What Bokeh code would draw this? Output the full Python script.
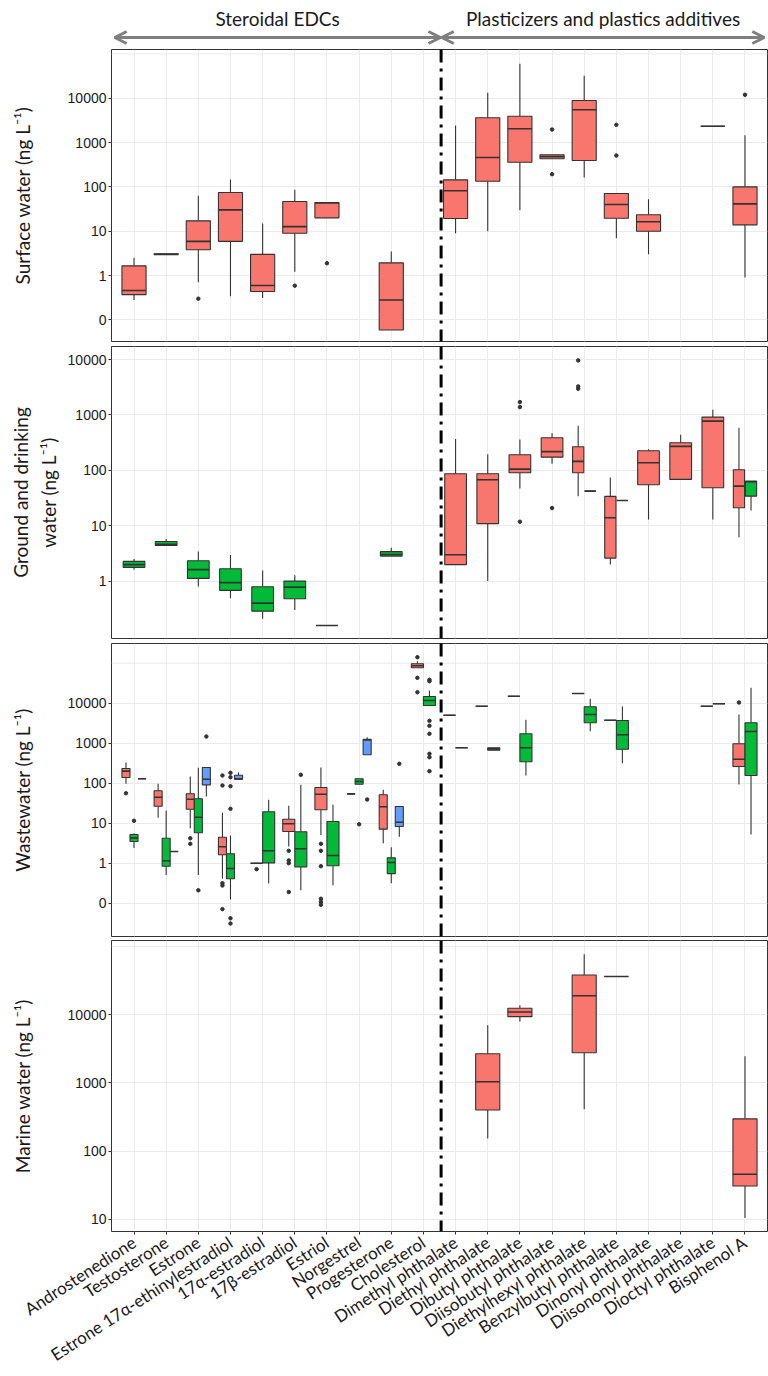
import math
from bokeh.plotting import figure
from bokeh.models import (FactorRange, Range1d, FixedTicker, CustomJSTickFormatter,
                          Span, ColumnDataSource, Arrow, OpenHead)
from bokeh.transform import dodge
from bokeh.layouts import column
from bokeh.embed import file_html
from bokeh.resources import INLINE
from bokeh.core.properties import value

# ---------------- data ----------------
categories = ["Androstenedione", "Testosterone", "Estrone", "Estrone 17α-ethinylestradiol",
              "17α-estradiol", "17β-estradiol", "Estriol", "Norgestrel", "Progesterone",
              "Cholesterol", "Dimethyl phthalate", "Diethyl phthalate", "Dibutyl phthalate",
              "Diisobutyl phthalate", "Diethylhexyl phthalate", "Benzylbutyl phthalate",
              "Dinonyl phthalate", "Diisononyl phthalate", "Dioctyl phthalate", "Bisphenol A"]
group_titles = ["Steroidal EDCs", "Plasticizers and plastics additives"]
n_steroid = 10
C = categories

# Surface water
sw_cat = [C[0], C[1], C[2], C[3], C[4], C[5], C[6], C[8], C[10], C[11], C[12], C[13], C[14], C[15], C[16], C[18], C[19]]
sw_grp = [0] * len(sw_cat)
sw_lo  = [0.28, 2.95, 0.70, 0.34, 0.31, 1.21, 20, 0.059, 9.0, 10, 29.7, 430, 162, 6.9, 3.0, 2335, 0.9]
sw_q1  = [0.37, 2.95, 3.8, 5.9, 0.435, 9.0, 20, 0.059, 19.3, 134, 360, 430, 393, 19.6, 10, 2335, 13.9]
sw_med = [0.46, 3.02, 5.9, 30.3, 0.594, 12.7, 43.5, 0.28, 81.5, 459, 2042, 477, 5470, 40, 16.3, 2335, 41.4]
sw_q3  = [1.65, 3.1, 17.1, 74.5, 3.0, 46.7, 44.4, 1.93, 144, 3614, 3926, 528, 8870, 70.8, 23.4, 2335, 100]
sw_hi  = [2.5, 3.1, 62.8, 146, 14.9, 85.7, 44.4, 3.47, 2420, 13240, 59700, 528, 32000, 72, 52.6, 2335, 1462]
sw_out_cat = [C[2], C[5], C[6], C[13], C[13], C[15], C[15], C[19]]
sw_out_grp = [0] * len(sw_out_cat)
sw_out_val = [0.30, 0.59, 1.89, 1968, 193, 2512, 509, 11940]

# Ground and drinking water
gd_cat = [C[0], C[1], C[2], C[3], C[4], C[5], C[6], C[8], C[10], C[11], C[12], C[13], C[14], C[14],
          C[15], C[15], C[16], C[17], C[18], C[19], C[19]]
gd_grp = [1, 1, 1, 1, 1, 1, 1, 1, 0, 0, 0, 0, 0, 1, 0, 1, 0, 0, 0, 0, 1]
gd_lo  = [1.61, 4.41, 0.80, 0.49, 0.21, 0.30, 0.158, 2.83, 1.98, 1.0, 47.1, 131, 34.2, 42.1, 2.0, 28.6, 13, 68.5, 13, 6.2, 18.9]
gd_q1  = [1.77, 4.41, 1.12, 0.68, 0.287, 0.48, 0.158, 2.83, 1.98, 10.9, 90.5, 173, 90.5, 42.1, 2.6, 28.6, 55, 68.5, 48.5, 21.1, 34.2]
gd_med = [1.98, 4.6, 1.61, 0.94, 0.40, 0.78, 0.158, 3.03, 3.0, 67.7, 105, 217, 145, 42.1, 13.9, 28.6, 137, 270, 773, 51.9, 62]
gd_q3  = [2.27, 5.2, 2.33, 1.67, 0.79, 1.0, 0.158, 3.4, 86.9, 86.9, 191, 388, 267, 42.1, 33.8, 28.6, 226, 315, 913, 102.5, 63.8]
gd_hi  = [2.5, 5.73, 3.44, 2.95, 1.56, 1.27, 0.158, 4.0, 366, 194, 361, 469, 638, 42.1, 74.5, 28.6, 241, 439, 1242, 587, 63.8]
gd_out_cat = [C[12], C[12], C[12], C[13], C[14], C[14], C[14]]
gd_out_grp = [0, 0, 0, 0, 0, 0, 0]
gd_out_val = [1703, 1383, 11.8, 20.8, 9640, 3268, 2970]

# Wastewater
ww_cat = [C[0], C[0], C[0], C[1], C[1], C[1], C[2], C[2], C[2], C[3], C[3], C[3], C[4], C[4],
          C[5], C[5], C[6], C[6], C[7], C[7], C[7], C[8], C[8], C[8], C[9], C[9],
          C[10], C[10], C[11], C[11], C[12], C[12], C[14], C[14], C[15], C[15], C[18], C[18], C[19], C[19]]
ww_grp = [0, 1, 2, 0, 1, 2, 0, 1, 2, 0, 1, 2, 0, 1,
          0, 1, 0, 1, 0, 1, 2, 0, 1, 2, 0, 1,
          0, 1, 0, 1, 0, 1, 0, 1, 0, 1, 0, 1, 0, 1]
ww_lo  = [97, 2.4, 129, 13.6, 0.51, 1.96, 7.5, 0.51, 46.5, 0.41, 0.124, 126, 1.0, 0.31,
          2.6, 0.21, 5.1, 0.28, 54, 94, 513, 3.16, 0.316, 4.6, 76700, 8750,
          5010, 767, 8410, 668, 14960, 156, 17470, 1995, 3758, 316, 8410, 9660, 92.8, 5.2]
ww_q1  = [139, 3.5, 129, 26.6, 0.84, 1.96, 22.4, 5.75, 91, 1.62, 0.41, 126, 1.0, 1.02,
          6.2, 0.81, 21.6, 0.86, 54, 94, 513, 7.1, 0.55, 8.3, 76700, 8750,
          5010, 767, 8410, 668, 14960, 343, 17470, 3236, 3758, 708, 8410, 9660, 261, 156]
ww_med = [200, 4.3, 129, 44.7, 1.15, 1.96, 39.8, 14.1, 126, 2.57, 0.74, 128, 1.0, 2.04,
          9.7, 2.29, 53, 1.56, 54, 110, 1200, 25.7, 1.04, 10.6, 86100, 11700,
          5010, 767, 8410, 720, 14960, 767, 17470, 5216, 3758, 1622, 8410, 9660, 398, 1960]
ww_q3  = [233, 5.2, 129, 64.6, 4.2, 1.96, 54.3, 40.7, 247, 4.47, 1.72, 158, 1.0, 19.3,
          12.6, 6.1, 78, 11, 54, 129, 1259, 51.3, 1.36, 26.1, 96600, 14700,
          5010, 767, 8410, 767, 14960, 1718, 17470, 8130, 3758, 3690, 8410, 9660, 966, 3236]
ww_hi  = [329, 5.5, 129, 96.6, 20.8, 1.96, 147, 243, 247, 18.2, 4.9, 188, 1.0, 38.5,
          27.2, 91, 247, 28.8, 54, 129, 1413, 68.4, 2.5, 26.1, 112000, 20800,
          5010, 767, 8410, 767, 14960, 3846, 17470, 12880, 3758, 8260, 8410, 9660, 5216, 24270]
ww_out_cat = [C[0], C[0], C[2], C[2], C[2], C[2],
              C[3], C[3], C[3], C[3], C[3], C[3], C[3], C[3], C[3], C[3], C[3],
              C[4], C[5], C[5], C[5], C[5], C[5],
              C[6], C[6], C[6], C[6], C[6], C[6], C[7], C[7], C[8],
              C[9], C[9], C[9], C[9], C[9], C[9], C[9], C[9], C[9], C[9], C[9], C[19]]
ww_out_grp = [0, 1, 0, 0, 1, 2,
              0, 0, 0, 0, 0, 1, 1, 1, 1, 1, 1,
              0, 0, 0, 0, 0, 1,
              0, 0, 0, 0, 0, 0, 1, 2, 2,
              0, 0, 0, 1, 1, 1, 1, 1, 1, 1, 1, 0]
ww_out_val = [56, 11.5, 4.2, 3.05, 0.21, 1470,
              156, 87.7, 0.316, 0.277, 0.071, 182, 141, 84, 22.9, 0.042, 0.031,
              0.71, 2.04, 1.17, 1.0, 0.19, 162,
              3.05, 2.04, 0.84, 0.129, 0.108, 0.091, 9.4, 39.1, 305,
              141000, 43100, 18800, 38500, 35500, 3630, 2720, 1720, 543, 447, 200, 10400]

# Marine water
mw_cat = [C[11], C[12], C[14], C[15], C[19]]
mw_grp = [0, 0, 0, 0, 0]
mw_lo  = [153, 7910, 410, 36200, 10.5]
mw_q1  = [401, 9350, 2770, 36200, 30.8]
mw_med = [1037, 10950, 18900, 36200, 45.9]
mw_q3  = [2680, 12400, 38200, 36200, 297]
mw_hi  = [7010, 13700, 76600, 36200, 2450]
mw_out_cat, mw_out_grp, mw_out_val = [], [], []

# ---------------- style ----------------
FILLS = {0: "#F8766D", 1: "#00BA38", 2: "#619CFF"}
EDGE = "#333333"
GRID = "#ebebeb"
LABEL_FONT = "Lato"
TICK_FONT = "Liberation Sans"

xr = FactorRange(factors=categories, range_padding=0.2, range_padding_units="absolute")


def offsets(cats, grps, present):
    res = []
    for c, g in zip(cats, grps):
        gs = sorted(present[c])
        n = len(gs)
        r = gs.index(g) if g in gs else 0
        off = (-0.375 + 0.75 / n * (r + 0.5)) if n > 1 else 0.0
        res.append((n, r, off))
    return res


def draw_boxes(p, cat, grp, lo, q1, med, q3, hi, oc, og, ov, widths):
    present = {}
    for c, g in zip(cat, grp):
        present.setdefault(c, set()).add(g)
    info = offsets(cat, grp, present)
    combos = {}
    for i, (n, r, off) in enumerate(info):
        combos.setdefault((n, r, grp[i], off), []).append(i)
    for (n, r, g, off), idx in combos.items():
        w = widths[n]
        src = ColumnDataSource(dict(cat=[cat[i] for i in idx], lo=[lo[i] for i in idx],
                                    q1=[q1[i] for i in idx], med=[med[i] for i in idx],
                                    q3=[q3[i] for i in idx], hi=[hi[i] for i in idx]))
        xc = dodge("cat", off, range=xr)
        p.segment(x0=xc, y0="q3", x1=xc, y1="hi", source=src, line_color=EDGE, line_width=1.1)
        p.segment(x0=xc, y0="q1", x1=xc, y1="lo", source=src, line_color=EDGE, line_width=1.1)
        p.vbar(x=xc, width=w, bottom="q1", top="q3", source=src, fill_color=FILLS[g],
               line_color=EDGE, line_width=1.1)
        p.segment(x0=dodge("cat", off - w / 2, range=xr), y0="med",
                  x1=dodge("cat", off + w / 2, range=xr), y1="med", source=src,
                  line_color=EDGE, line_width=1.6)
    if oc:
        oinfo = offsets(oc, og, present)
        ocombos = {}
        for i, (n, r, off) in enumerate(oinfo):
            ocombos.setdefault(off, []).append(i)
        for off, idx in ocombos.items():
            src = ColumnDataSource(dict(cat=[oc[i] for i in idx], val=[ov[i] for i in idx]))
            p.scatter(x=dodge("cat", off, range=xr), y="val", source=src, size=3.5,
                      fill_color=EDGE, line_color=EDGE)


def make_panel(height, lo_exp, hi_exp, ticks, label, mbb, standoff, bottom=False, extra_grid=None):
    p = figure(width=768, height=height, x_range=xr,
               y_range=Range1d(10 ** lo_exp, 10 ** hi_exp), y_axis_type="log",
               x_axis_location="below" if bottom else None,
               output_backend="svg", toolbar_location=None,
               min_border_left=111, min_border_right=1, min_border_top=0, min_border_bottom=mbb,
               background_fill_color="white", border_fill_color="white")
    p.outline_line_color = EDGE
    p.outline_line_width = 1
    p.xgrid.grid_line_color = GRID
    p.ygrid.grid_line_color = GRID
    p.ygrid.minor_grid_line_color = None
    p.yaxis.ticker = FixedTicker(ticks=ticks, minor_ticks=[])
    p.yaxis.formatter = CustomJSTickFormatter(code="return tick < 0.5 ? '0' : Math.round(tick).toString();")
    p.yaxis.major_label_text_font = TICK_FONT
    p.yaxis.major_label_text_font_size = "14px"
    p.yaxis.major_label_text_color = "#1a1a1a"
    p.yaxis.axis_line_color = None
    p.yaxis.major_tick_in = 0
    p.yaxis.major_tick_out = 3
    p.yaxis.major_tick_line_color = EDGE
    p.yaxis.minor_tick_line_color = None
    p.yaxis.major_label_standoff = 2
    p.yaxis.axis_label = label
    p.yaxis.axis_label_text_font = LABEL_FONT
    p.yaxis.axis_label_text_font_size = "19px"
    p.yaxis.axis_label_text_font_style = "normal"
    p.yaxis.axis_label_text_color = "#1a1a1a"
    p.yaxis.axis_label_standoff = standoff
    if bottom:
        p.xaxis.axis_line_color = None
        p.xaxis.major_tick_in = 0
        p.xaxis.major_tick_out = 3
        p.xaxis.major_tick_line_color = EDGE
        p.xaxis.major_label_orientation = math.radians(33)
        p.xaxis.major_label_text_font = LABEL_FONT
        p.xaxis.major_label_text_font_size = "17px"
        p.xaxis.major_label_text_color = "#1a1a1a"
        p.xaxis.major_label_standoff = 6
    if extra_grid is not None:
        p.add_layout(Span(location=extra_grid, dimension="width", line_color=GRID, line_width=1,
                          level="underlay"))
    return p


p1 = make_panel(297, -1.489, 5.099, [0.1, 1, 10, 100, 1000, 10000],
                "Surface water (ng L⁻¹)", 5, 31, extra_grid=1e5)
p2 = make_panel(297, -1.036, 4.235, [1, 10, 100, 1000, 10000],
                "Ground and drinking\nwater (ng L⁻¹)", 5, 5)
p3 = make_panel(297, -1.8325, 5.4925, [0.1, 1, 10, 100, 1000, 10000],
                "Wastewater (ng L⁻¹)", 4, 31, extra_grid=1e5)
p4 = make_panel(436, 0.822, 5.087, [10, 100, 1000, 10000],
                "Marine water (ng L⁻¹)", 140, 31, bottom=True, extra_grid=1e5)

draw_boxes(p1, sw_cat, sw_grp, sw_lo, sw_q1, sw_med, sw_q3, sw_hi, sw_out_cat, sw_out_grp, sw_out_val, {1: 0.75})
draw_boxes(p2, gd_cat, gd_grp, gd_lo, gd_q1, gd_med, gd_q3, gd_hi, gd_out_cat, gd_out_grp, gd_out_val, {1: 0.675, 2: 0.35})
draw_boxes(p3, ww_cat, ww_grp, ww_lo, ww_q1, ww_med, ww_q3, ww_hi, ww_out_cat, ww_out_grp, ww_out_val, {1: 0.675, 2: 0.375, 3: 0.25})
draw_boxes(p4, mw_cat, mw_grp, mw_lo, mw_q1, mw_med, mw_q3, mw_hi, mw_out_cat, mw_out_grp, mw_out_val, {1: 0.75})

split = n_steroid + 0.05
for p in (p1, p2, p3, p4):
    p.add_layout(Span(location=split, dimension="height", line_color="black", line_width=3,
                      line_dash="13 6 3 6"))

# top header with arrows
top = figure(width=768, height=49, x_range=xr, y_range=Range1d(0, 49),
             output_backend="svg", toolbar_location=None,
             x_axis_location=None, y_axis_location=None,
             min_border_left=111, min_border_right=1, min_border_top=0, min_border_bottom=0)
top.outline_line_color = None
top.grid.visible = False
left_edge = -0.1
right_edge = len(categories) + 0.1
spans = [(left_edge, split - 0.02), (split + 0.02, right_edge)]
for (a, b) in spans:
    top.add_layout(Arrow(x_start=a, x_end=b, y_start=12, y_end=12,
                         start=OpenHead(size=12, line_width=3, line_color="#7f7f7f"),
                         end=OpenHead(size=12, line_width=3, line_color="#7f7f7f"),
                         line_color="#7f7f7f", line_width=3))
top.text(x=[(a + b) / 2 for a, b in spans], y=[31, 31], text=group_titles,
         text_align="center", text_baseline="middle", text_font=value(LABEL_FONT),
         text_font_size="19px", text_color="#1a1a1a")

layout = column(top, p1, p2, p3, p4, spacing=0)
open("out.html", "w").write(file_html(layout, INLINE))
